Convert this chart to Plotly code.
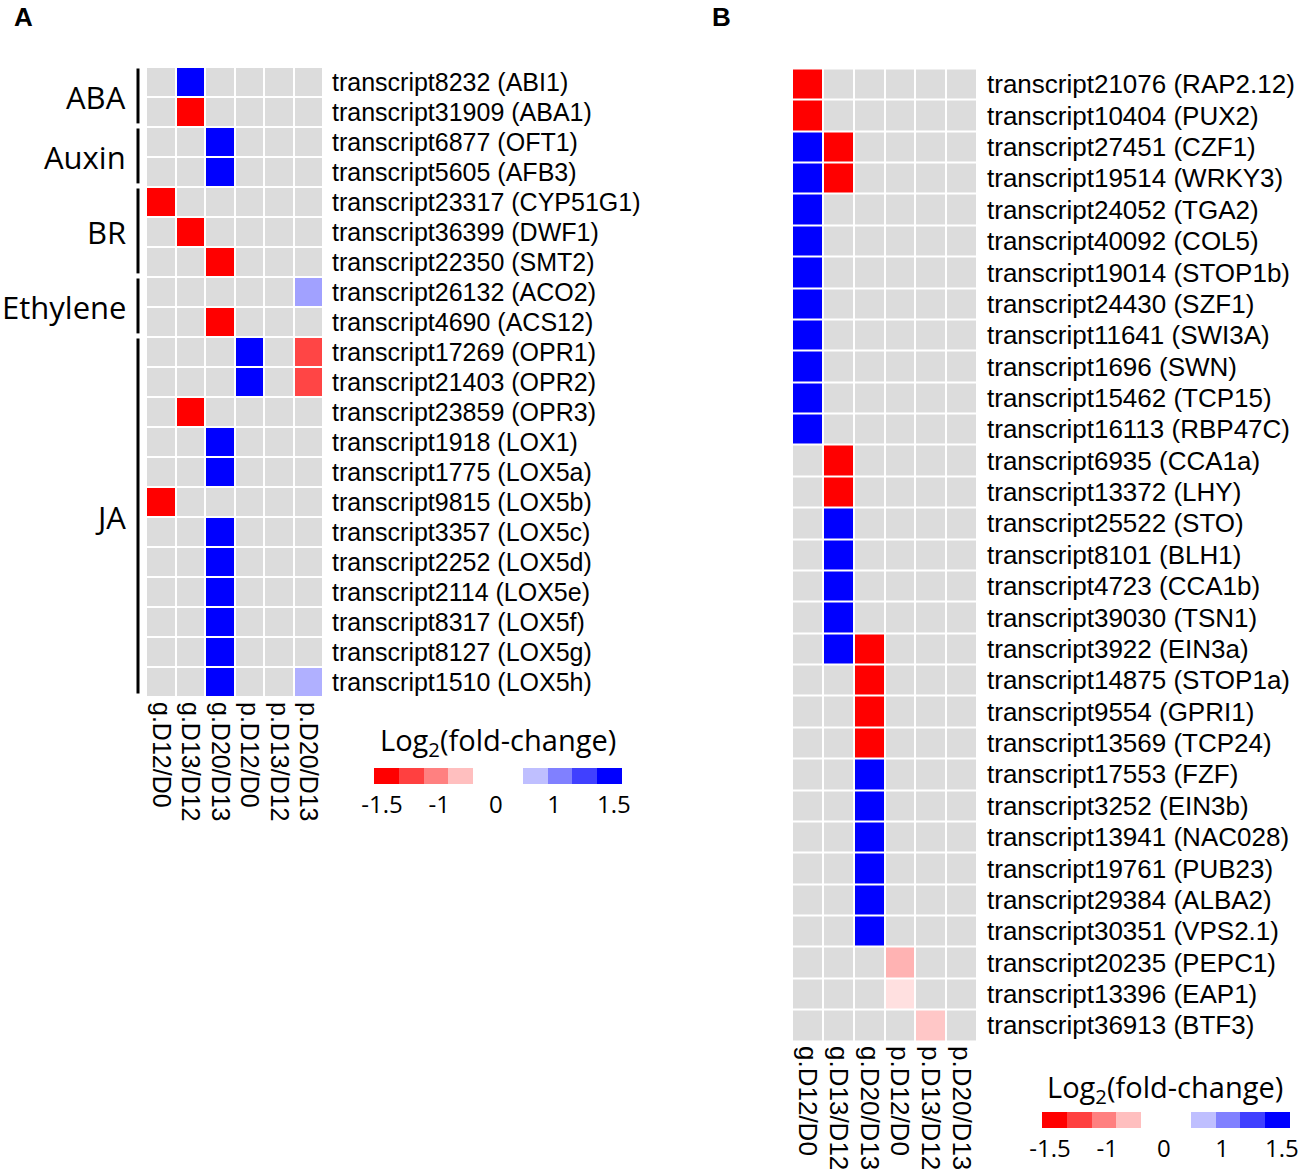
import plotly.graph_objects as go

W, H = 1299, 1174

# columns shared by both panels
conditions = ["g.D12/D0", "g.D13/D12", "g.D20/D13", "p.D12/D0", "p.D13/D12", "p.D20/D13"]

# panel A: hormone related transcripts
genes_a = ["transcript8232 (ABI1)", "transcript31909 (ABA1)", "transcript6877 (OFT1)",
           "transcript5605 (AFB3)", "transcript23317 (CYP51G1)", "transcript36399 (DWF1)",
           "transcript22350 (SMT2)", "transcript26132 (ACO2)", "transcript4690 (ACS12)",
           "transcript17269 (OPR1)", "transcript21403 (OPR2)", "transcript23859 (OPR3)",
           "transcript1918 (LOX1)", "transcript1775 (LOX5a)", "transcript9815 (LOX5b)",
           "transcript3357 (LOX5c)", "transcript2252 (LOX5d)", "transcript2114 (LOX5e)",
           "transcript8317 (LOX5f)", "transcript8127 (LOX5g)", "transcript1510 (LOX5h)"]
logfc_a = [
    [0, 1.5, 0, 0, 0, 0],
    [0, -1.5, 0, 0, 0, 0],
    [0, 0, 1.5, 0, 0, 0],
    [0, 0, 1.5, 0, 0, 0],
    [-1.5, 0, 0, 0, 0, 0],
    [0, -1.5, 0, 0, 0, 0],
    [0, 0, -1.5, 0, 0, 0],
    [0, 0, 0, 0, 0, 0.87],
    [0, 0, -1.5, 0, 0, 0],
    [0, 0, 0, 1.5, 0, -1.23],
    [0, 0, 0, 1.5, 0, -1.23],
    [0, -1.5, 0, 0, 0, 0],
    [0, 0, 1.5, 0, 0, 0],
    [0, 0, 1.5, 0, 0, 0],
    [-1.5, 0, 0, 0, 0, 0],
    [0, 0, 1.5, 0, 0, 0],
    [0, 0, 1.5, 0, 0, 0],
    [0, 0, 1.5, 0, 0, 0],
    [0, 0, 1.5, 0, 0, 0],
    [0, 0, 1.5, 0, 0, 0],
    [0, 0, 1.5, 0, 0, 0.81],
]
groups_a = ["ABA", "Auxin", "BR", "Ethylene", "JA"]
group_sizes_a = [2, 2, 3, 2, 12]

# panel B: transcription / regulation related transcripts
genes_b = ["transcript21076 (RAP2.12)", "transcript10404 (PUX2)", "transcript27451 (CZF1)",
           "transcript19514 (WRKY3)", "transcript24052 (TGA2)", "transcript40092 (COL5)",
           "transcript19014 (STOP1b)", "transcript24430 (SZF1)", "transcript11641 (SWI3A)",
           "transcript1696 (SWN)", "transcript15462 (TCP15)", "transcript16113 (RBP47C)",
           "transcript6935 (CCA1a)", "transcript13372 (LHY)", "transcript25522 (STO)",
           "transcript8101 (BLH1)", "transcript4723 (CCA1b)", "transcript39030 (TSN1)",
           "transcript3922 (EIN3a)", "transcript14875 (STOP1a)", "transcript9554 (GPRI1)",
           "transcript13569 (TCP24)", "transcript17553 (FZF)", "transcript3252 (EIN3b)",
           "transcript13941 (NAC028)", "transcript19761 (PUB23)", "transcript29384 (ALBA2)",
           "transcript30351 (VPS2.1)", "transcript20235 (PEPC1)", "transcript13396 (EAP1)",
           "transcript36913 (BTF3)"]
logfc_b = [
    [-1.5, 0, 0, 0, 0, 0],
    [-1.5, 0, 0, 0, 0, 0],
    [1.5, -1.5, 0, 0, 0, 0],
    [1.5, -1.5, 0, 0, 0, 0],
    [1.5, 0, 0, 0, 0, 0],
    [1.5, 0, 0, 0, 0, 0],
    [1.5, 0, 0, 0, 0, 0],
    [1.5, 0, 0, 0, 0, 0],
    [1.5, 0, 0, 0, 0, 0],
    [1.5, 0, 0, 0, 0, 0],
    [1.5, 0, 0, 0, 0, 0],
    [1.5, 0, 0, 0, 0, 0],
    [0, -1.5, 0, 0, 0, 0],
    [0, -1.5, 0, 0, 0, 0],
    [0, 1.5, 0, 0, 0, 0],
    [0, 1.5, 0, 0, 0, 0],
    [0, 1.5, 0, 0, 0, 0],
    [0, 1.5, 0, 0, 0, 0],
    [0, 1.5, -1.5, 0, 0, 0],
    [0, 0, -1.5, 0, 0, 0],
    [0, 0, -1.5, 0, 0, 0],
    [0, 0, -1.5, 0, 0, 0],
    [0, 0, 1.5, 0, 0, 0],
    [0, 0, 1.5, 0, 0, 0],
    [0, 0, 1.5, 0, 0, 0],
    [0, 0, 1.5, 0, 0, 0],
    [0, 0, 1.5, 0, 0, 0],
    [0, 0, 1.5, 0, 0, 0],
    [0, 0, 0, -0.80, 0, 0],
    [0, 0, 0, -0.62, 0, 0],
    [0, 0, 0, 0, -0.72, 0],
]

# colour key blocks (None = gap around 0)
legend_values = [-1.5, -1.25, -1.0, -0.75, None, None, 0.75, 1.0, 1.25, 1.5]
legend_ticks = ["-1.5", "-1", "0", "1", "1.5"]

GREY = "#dcdcdc"
cscale = [
    [0.0, "#ff0000"], [1 / 3, "#ffffff"], [1 / 3 + 1e-4, GREY],
    [2 / 3 - 1e-4, GREY], [2 / 3, "#ffffff"], [1.0, "#0000ff"],
]
ARIAL = "Liberation Sans"
SANS = "Open Sans"


def px_x(a, b):
    return [a / W, b / W]


def px_y(top, bottom):
    return [1 - bottom / H, 1 - top / H]


fig = go.Figure()

for i, (z, genes) in enumerate([(logfc_a, genes_a), (logfc_b, genes_b)]):
    fig.add_trace(go.Heatmap(
        z=z, x=list(range(len(conditions))), y=list(range(len(genes))),
        colorscale=cscale, zmin=-1.5, zmax=1.5, showscale=False,
        xgap=2, ygap=2, hoverinfo="skip",
        xaxis="x" if i == 0 else "x2", yaxis="y" if i == 0 else "y2",
    ))

for i in range(2):
    fig.add_trace(go.Heatmap(
        z=[legend_values], x=list(range(len(legend_values))), y=[0],
        colorscale=cscale, zmin=-1.5, zmax=1.5, showscale=False, hoverinfo="skip",
        xaxis="x3" if i == 0 else "x4", yaxis="y3" if i == 0 else "y4",
    ))


def heat_axes(xdom, ydom, genes, fsize, standoff, xa, ya):
    xaxis = dict(domain=xdom, anchor=ya, range=[-0.5, len(conditions) - 0.5],
                 tickmode="array", tickvals=list(range(len(conditions))), ticktext=conditions,
                 tickangle=90, ticks="", showgrid=False, zeroline=False, showline=False,
                 automargin=False,
                 tickfont=dict(family=ARIAL, size=fsize, color="black"), ticklabelstandoff=4)
    yaxis = dict(domain=ydom, anchor=xa, range=[len(genes) - 0.5, -0.5], side="right",
                 tickmode="array", tickvals=list(range(len(genes))), ticktext=genes,
                 ticks="", showgrid=False, zeroline=False, showline=False,
                 automargin=False,
                 tickfont=dict(family=ARIAL, size=fsize, color="black"),
                 ticklabelstandoff=standoff)
    return xaxis, yaxis


def key_axes(xdom, ydom, xa, ya):
    xaxis = dict(domain=xdom, anchor=ya, range=[-0.5, len(legend_values) - 0.5],
                 tickmode="array", tickvals=[-0.18, 2.13, 4.41, 6.76, 9.17], ticktext=legend_ticks,
                 ticks="", showgrid=False, zeroline=False, showline=False, automargin=False,
                 tickfont=dict(family=SANS, size=24, color="black"), ticklabelstandoff=4)
    yaxis = dict(domain=ydom, anchor=xa, range=[-0.5, 0.5], visible=False, automargin=False)
    return xaxis, yaxis


xa, ya = heat_axes(px_x(146, 323), px_y(67, 697), genes_a, 25, 8, "x", "y")
xb, yb = heat_axes(px_x(792, 977), px_y(68.5, 1041), genes_b, 26, 9, "x2", "y2")
xk1, yk1 = key_axes(px_x(374, 622), px_y(768, 784), "x3", "y3")
xk2, yk2 = key_axes(px_x(1042, 1290), px_y(1112, 1128), "x4", "y4")

fig.update_layout(
    width=W, height=H, autosize=False,
    margin=dict(l=0, r=0, t=0, b=0, pad=0),
    paper_bgcolor="white", plot_bgcolor="white",
    xaxis=xa, yaxis=ya, xaxis2=xb, yaxis2=yb,
    xaxis3=xk1, yaxis3=yk1, xaxis4=xk2, yaxis4=yk2,
    showlegend=False,
)

# group brackets and names for panel A
start = 0
for name, n in zip(groups_a, group_sizes_a):
    end = start + n - 1
    fig.add_shape(type="line", xref="paper", yref="y",
                  x0=138 / W, x1=138 / W, y0=start - 0.45, y1=end + 0.38,
                  line=dict(color="black", width=3))
    fig.add_annotation(xref="paper", yref="y", x=128 / W, y=(start + end) / 2,
                       text=name, showarrow=False, xanchor="right", yanchor="middle",
                       font=dict(family=SANS, size=31, color="black"))
    start = end + 1

# colour key titles
for xc, yc in [(498, 741), (1165, 1088)]:
    fig.add_annotation(xref="paper", yref="paper", x=xc / W, y=1 - yc / H,
                       text="Log<sub>2</sub>(fold-change)", showarrow=False,
                       xanchor="center", yanchor="middle",
                       font=dict(family=SANS, size=29, color="black"))

# panel letters
for letter, xl in [("A", 12), ("B", 710)]:
    fig.add_annotation(xref="paper", yref="paper", x=xl / W, y=1,
                       text="<b>%s</b>" % letter, showarrow=False,
                       xanchor="left", yanchor="top",
                       font=dict(family=ARIAL, size=26, color="black"))

# the page has a default 8px body margin; drop it so the figure fills the window
fig.write_html("out.html", config={"displayModeBar": False},
               post_script="document.body.style.margin = '0px';")
